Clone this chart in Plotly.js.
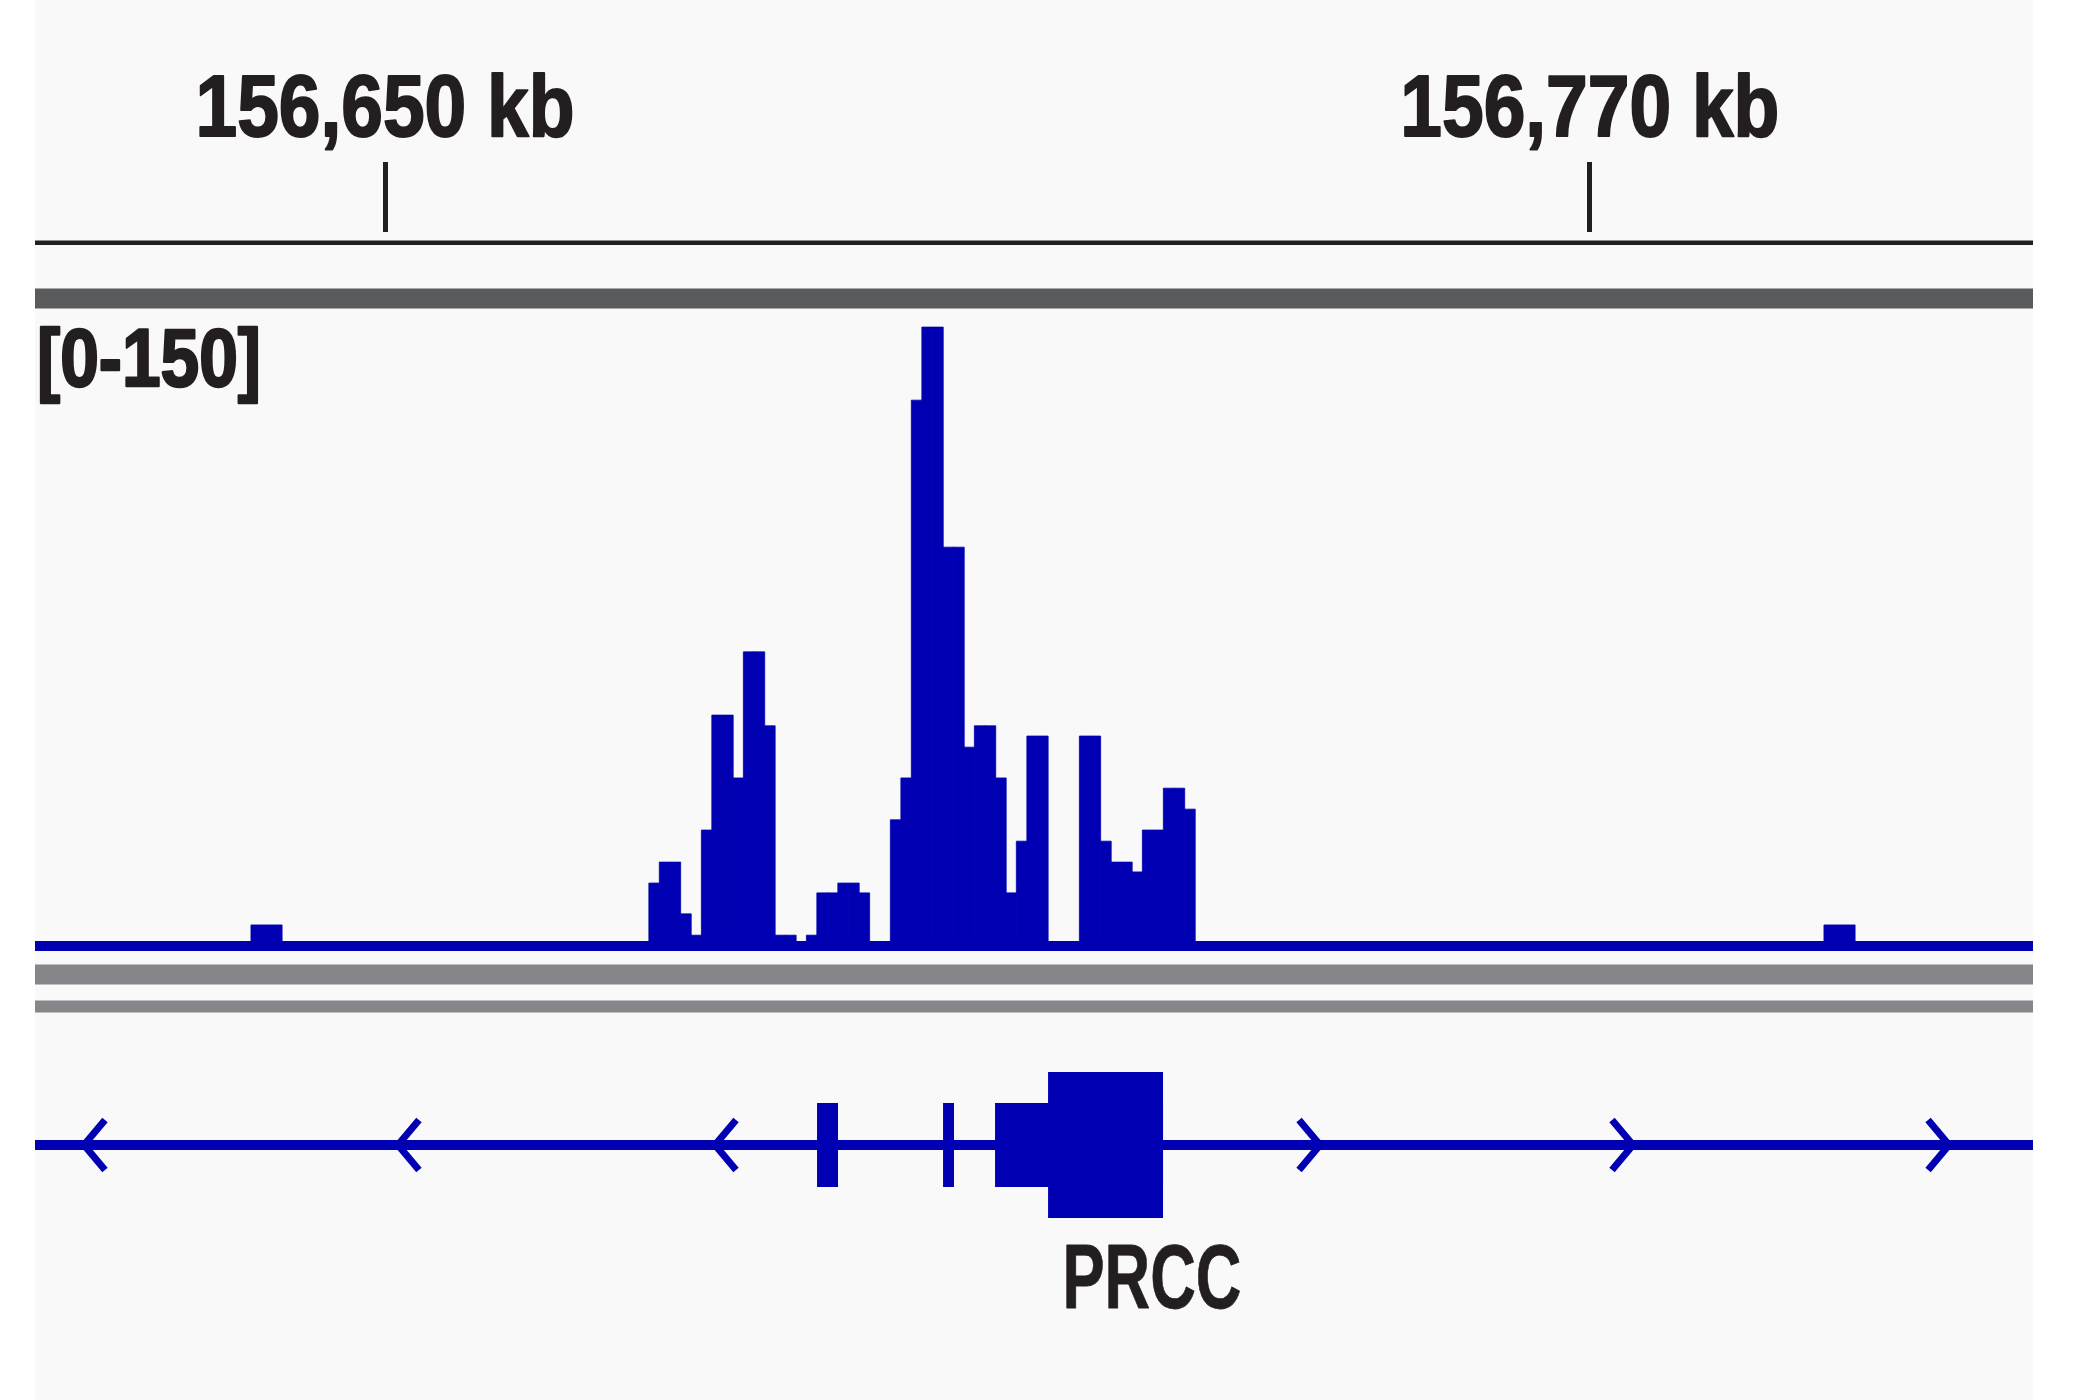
<!DOCTYPE html>
<html>
<head>
<meta charset="utf-8">
<script src="https://cdn.plot.ly/plotly-3.0.1.min.js"></script>
<style>
  html, body { margin: 0; padding: 0; background: #ffffff; }
  #chart { width: 2080px; height: 1400px; }
</style>
</head>
<body>
<div id="chart"></div>
<script>
// ---------------- data ----------------
// visible locus (kb)
const locusStartKb = 156615.14;
const locusEndKb = 156814.14;

// ruler ticks
const rulerTickKb = [156650, 156770];
const rulerTickLabels = ['156,650 kb', '156,770 kb'];

// signal track data range label
const dataRangeLabel = '[0-150]';
const dataRangeMax = 150;

// signal bins (centre, kb) and values
const binCentersKb = [156676.82, 156677.86, 156678.91, 156679.96, 156681.00, 156682.05, 156683.09, 156684.14,
  156685.18, 156686.23, 156687.28, 156688.32, 156689.37, 156690.41, 156691.46, 156692.51, 156693.55, 156694.60,
  156695.64, 156696.69, 156697.73, 156698.78, 156699.83, 156700.87, 156701.92, 156702.96, 156704.01, 156705.06,
  156706.10, 156707.15, 156708.19, 156709.24, 156710.29, 156711.33, 156712.38, 156713.42, 156714.47, 156715.51,
  156716.56, 156717.61, 156718.65, 156719.70, 156720.74, 156721.79, 156722.84, 156723.88, 156724.93, 156725.97,
  156727.02, 156728.06, 156729.11, 156730.16];
const binValues = [15.9, 20.8, 20.8, 8.7, 3.7, 28.3, 55.2, 55.2, 40.5, 70.0,
  70.0, 52.7, 3.7, 3.7, 0, 3.7, 13.6, 13.6, 15.9, 15.9,
  13.6, 0, 0, 30.7, 40.5, 128.9, 146.0, 146.0, 94.5, 94.5,
  47.7, 52.7, 52.7, 40.5, 13.6, 25.7, 50.3, 50.3, 0, 0,
  0, 50.3, 50.3, 25.7, 20.8, 20.8, 18.5, 28.3, 28.3, 38.1,
  38.1, 33.2];
const binWidthKb = 1.046;

// isolated small bins
const smallBinCentersKb = [156638.20, 156794.87];
const smallBinValues = [6.1, 6.1];
const smallBinWidthKb = 3.1;

// gene PRCC
const geneName = 'PRCC';
const geneLabelKb = 156726.36;
const exonStartsKb = [156693.03, 156705.58, 156710.76];
const exonEndsKb = [156695.12, 156706.67, 156727.49];
const thickStartKb = 156716.04;
const thickEndKb = 156727.49;
const minusArrowKb = [156620.02, 156651.29, 156682.87];
const plusArrowKb = [156743.13, 156774.30, 156805.78];

// ---------------- styling ----------------
const BLUE = 'rgb(0,0,178)';
const INK = '#231f20';
const FONT = "'Liberation Sans', Arial, sans-serif";
const H = 1400;
const py = v => 1 - v / H;       // pixel row -> paper y
const arrowKb = 2.09;            // chevron arm width in kb

// ---------------- traces ----------------
const bars = {
  type: 'bar',
  x: binCentersKb.concat(smallBinCentersKb),
  y: binValues.concat(smallBinValues),
  width: binCentersKb.map(() => binWidthKb * 1.03).concat(smallBinCentersKb.map(() => smallBinWidthKb)),
  base: 0,
  marker: { color: BLUE, line: { color: BLUE, width: 0.8 } },
  xaxis: 'x', yaxis: 'y',
  hoverinfo: 'x+y', showlegend: false
};

const chevX = [], chevY = [];
minusArrowKb.forEach(a => { chevX.push(a + arrowKb, a, a + arrowKb, null); chevY.push(1120, 1145, 1170, null); });
plusArrowKb.forEach(a => { chevX.push(a - arrowKb, a, a - arrowKb, null); chevY.push(1120, 1145, 1170, null); });
const chevrons = {
  type: 'scatter', mode: 'lines',
  x: chevX, y: chevY,
  line: { color: BLUE, width: 7 },
  xaxis: 'x', yaxis: 'y2', hoverinfo: 'skip', showlegend: false
};

// ---------------- shapes ----------------
const shapes = [
  // panel background
  { type: 'rect', layer: 'below', xref: 'paper', yref: 'paper', x0: 0, x1: 1, y0: 0, y1: 1,
    fillcolor: '#f9f9f9', line: { width: 0 } },
  // ruler line
  { type: 'rect', xref: 'paper', yref: 'y2', x0: 0, x1: 1, y0: 240.5, y1: 245,
    fillcolor: INK, line: { width: 0 } },
  // track separators
  { type: 'rect', xref: 'paper', yref: 'y2', x0: 0, x1: 1, y0: 288.5, y1: 308.5,
    fillcolor: '#5a5b5d', line: { width: 0 } },
  { type: 'rect', xref: 'paper', yref: 'y2', x0: 0, x1: 1, y0: 964.5, y1: 984.5,
    fillcolor: '#858689', line: { width: 0 } },
  { type: 'rect', xref: 'paper', yref: 'y2', x0: 0, x1: 1, y0: 1000.5, y1: 1012.5,
    fillcolor: '#858689', line: { width: 0 } },
  // signal baseline
  { type: 'rect', xref: 'paper', yref: 'y2', x0: 0, x1: 1, y0: 941, y1: 951,
    fillcolor: BLUE, line: { width: 0 } },
  // gene intron line
  { type: 'rect', xref: 'paper', yref: 'y2', x0: 0, x1: 1, y0: 1140, y1: 1150,
    fillcolor: BLUE, line: { width: 0 } }
];
exonStartsKb.forEach((s, i) => {
  shapes.push({ type: 'rect', xref: 'x', yref: 'y2', x0: s, x1: exonEndsKb[i], y0: 1103, y1: 1187,
    fillcolor: BLUE, line: { width: 0 } });
});
shapes.push({ type: 'rect', xref: 'x', yref: 'y2', x0: thickStartKb, x1: thickEndKb, y0: 1072, y1: 1218,
  fillcolor: BLUE, line: { width: 0 } });

// ---------------- layout ----------------
const layout = {
  width: 2080, height: 1400,
  margin: { l: 35, r: 47, t: 0, b: 0, pad: 0 },
  paper_bgcolor: '#ffffff',
  plot_bgcolor: 'rgba(0,0,0,0)',
  showlegend: false,
  bargap: 0,
  xaxis: {
    range: [locusStartKb, locusEndKb], autorange: false,
    anchor: 'free', position: py(232), side: 'top',
    showgrid: false, zeroline: false, showline: false,
    tickmode: 'array', tickvals: rulerTickKb, ticktext: rulerTickLabels,
    ticks: 'outside', ticklen: 70, tickwidth: 5, tickcolor: INK,
    ticklabelstandoff: -9,
    tickfont: { family: FONT, size: 87, color: INK, weight: 'bold' },
    fixedrange: true
  },
  yaxis: {
    domain: [py(951), py(951 - 641)],
    range: [0, dataRangeMax], autorange: false,
    visible: false, fixedrange: true
  },
  yaxis2: {
    domain: [0, 1], range: [H, 0], autorange: false,
    anchor: 'x', visible: false, fixedrange: true
  },
  shapes: shapes,
  annotations: [
    { text: dataRangeLabel, xref: 'paper', yref: 'paper', x: 0, y: py(357), xanchor: 'left', yanchor: 'middle',
      showarrow: false, font: { family: FONT, size: 82, color: INK, weight: 'bold' } },
    { text: geneName, xref: 'x', yref: 'y2', x: geneLabelKb, y: 1276, xanchor: 'center', yanchor: 'middle',
      showarrow: false, font: { family: FONT, size: 91, color: INK, weight: 'bold' } }
  ]
};

// condensed heavy lettering (the original uses a bold condensed face):
// squeeze the real text to its measured width and thicken its strokes
function condense(el, target, leftAnchored, strokeW) {
  if (!el) return;
  el.style.fontWeight = '700';
  const orig = el.getComputedTextLength();
  el.setAttribute('textLength', target);
  el.setAttribute('lengthAdjust', 'spacingAndGlyphs');
  if (strokeW) {
    el.style.stroke = INK;
    el.style.strokeWidth = strokeW + 'px';
    el.style.strokeLinejoin = 'round';
  }
  if (leftAnchored) {
    const x = parseFloat(el.getAttribute('x') || '0');
    el.setAttribute('x', x - (orig - target) / 2);
  }
}

Plotly.newPlot('chart', [bars, chevrons], layout, { staticPlot: true, displayModeBar: false }).then(gd => {
  gd.querySelectorAll('.xtick text').forEach(t => condense(t, 379, false, 2));
  const ann = gd.querySelectorAll('.annotation-text');
  condense(ann[0], 224, true, 2.5);
  condense(ann[1], 179, false, 0.8);
});
</script>
</body>
</html>
